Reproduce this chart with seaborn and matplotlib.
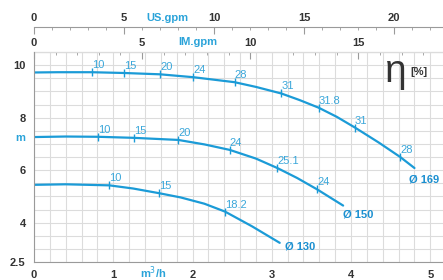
import numpy as np
import pandas as pd
import matplotlib
matplotlib.use("Agg")
import matplotlib.pyplot as plt
from matplotlib.ticker import MultipleLocator
import seaborn as sns

# ---------- data ----------
# pump curves: flow (m3/h) vs head (m) for three impeller diameters
q_169 = [0, 0.3, 0.73, 1.14, 1.59, 2.01, 2.53, 2.8, 3.12, 3.35, 3.59, 3.82, 4.05, 4.35, 4.62, 4.8]
h_169 = [9.72, 9.73, 9.73, 9.70, 9.65, 9.54, 9.35, 9.17, 8.92, 8.67, 8.38, 8.03, 7.62, 7.05, 6.50, 6.08]

q_150 = [0, 0.4, 0.81, 1.26, 1.82, 2.15, 2.47, 2.8, 3.07, 3.32, 3.57, 3.9]
h_150 = [7.26, 7.28, 7.27, 7.23, 7.15, 6.98, 6.77, 6.44, 6.08, 5.70, 5.27, 4.65]

q_130 = [0, 0.4, 0.95, 1.25, 1.58, 1.85, 2.15, 2.41, 2.75, 3.1]
h_130 = [5.44, 5.46, 5.42, 5.30, 5.12, 4.96, 4.72, 4.42, 3.86, 3.23]

# efficiency marks on each curve
eff_q_169 = [0.73, 1.14, 1.59, 2.01, 2.53, 3.12, 3.59, 4.05, 4.62]
eff_h_169 = [9.73, 9.70, 9.65, 9.54, 9.35, 8.92, 8.38, 7.62, 6.50]
eff_lbl_169 = ["10", "15", "20", "24", "28", "31", "31.8", "31", "28"]

eff_q_150 = [0.81, 1.26, 1.82, 2.47, 3.07, 3.57]
eff_h_150 = [7.27, 7.23, 7.15, 6.77, 6.08, 5.27]
eff_lbl_150 = ["10", "15", "20", "24", "25.1", "24"]

eff_q_130 = [0.95, 1.58, 2.41]
eff_h_130 = [5.42, 5.12, 4.42]
eff_lbl_130 = ["10", "15", "18.2"]

curve_names = ["Ø 169", "Ø 150", "Ø 130"]
y_ticks = [2.5, 4, 6, 8, 10]
y_tick_labels = ["2.5", "4", "6", "8", "10"]
x_ticks = [0, 1, 2, 3, 4, 5]
us_ticks = [0, 5, 10, 15, 20]
im_ticks = [0, 5, 10, 15]

M3H_TO_USGPM = 4.403
M3H_TO_IMGPM = 3.666

# ---------- style ----------
sns.set_style("white")
plt.rcParams["font.family"] = ["Liberation Sans", "DejaVu Sans"]

LINE = "#1b9bd7"
LBL = "#3aa7da"
DARK = "#333333"
SPINE = "#9a9a9a"
GRID = "#dcdcdc"

curves = pd.concat([
    pd.DataFrame({"Q": q_169, "H": h_169, "curve": curve_names[0]}),
    pd.DataFrame({"Q": q_150, "H": h_150, "curve": curve_names[1]}),
    pd.DataFrame({"Q": q_130, "H": h_130, "curve": curve_names[2]}),
])
eff = pd.concat([
    pd.DataFrame({"Q": eff_q_169, "H": eff_h_169, "lbl": eff_lbl_169}),
    pd.DataFrame({"Q": eff_q_150, "H": eff_h_150, "lbl": eff_lbl_150}),
    pd.DataFrame({"Q": eff_q_130, "H": eff_h_130, "lbl": eff_lbl_130}),
])

fig = plt.figure(figsize=(4.43, 2.8), dpi=100)
ax = fig.add_axes([34 / 443, 18 / 280, 409 / 443, 210 / 280])

sns.lineplot(data=curves, x="Q", y="H", hue="curve", units="curve", estimator=None,
             palette=[LINE] * 3, sort=False, legend=False, linewidth=1.6, ax=ax)
sns.scatterplot(data=eff, x="Q", y="H", marker="|", s=30, linewidth=1.0,
                color=LINE, legend=False, ax=ax, zorder=3)

for _, r in eff.iterrows():
    ax.annotate(r["lbl"], (r["Q"], r["H"]), xytext=(0, 2), textcoords="offset pixels",
                ha="left", va="bottom", fontsize=8, color=LBL)

# diameter labels at the end of each curve
ends = [(q_169[-1], h_169[-1], (-5, -11)), (q_150[-1], h_150[-1], (0, -9)),
        (q_130[-1], h_130[-1], (5, -4))]
for name, (qe, he, off) in zip(curve_names, ends):
    ax.annotate(name, (qe, he), xytext=off, textcoords="offset pixels",
                ha="left", va="center", fontsize=8, fontweight="bold", color="#1a8fd0")

# ---------- axes ----------
ax.set_xlim(0, 5.16)
ax.set_ylim(2.5, 10.5)
ax.set_xticks(x_ticks)
ax.xaxis.set_minor_locator(MultipleLocator(0.2))
ax.set_yticks(y_ticks)
ax.set_yticklabels(y_tick_labels)
ax.yaxis.set_minor_locator(MultipleLocator(0.5))
ax.grid(which="both", color=GRID, linewidth=0.8)
ax.set_axisbelow(True)
ax.set_xlabel("")
ax.set_ylabel("")
for s in ["top", "right"]:
    ax.spines[s].set_visible(False)
for s in ["left", "bottom"]:
    ax.spines[s].set_color(SPINE)
ax.tick_params(axis="both", which="major", labelsize=8, labelcolor=DARK,
               color=SPINE, length=4, width=0.8, direction="out", pad=2)
ax.tick_params(axis="x", which="minor", color=SPINE, length=2.5, width=0.6, direction="out")
ax.tick_params(axis="y", which="minor", length=0)
for t in ax.get_xticklabels() + ax.get_yticklabels():
    t.set_fontweight("bold")

# secondary flow scales on top
sec_im = ax.secondary_xaxis("top", functions=(lambda q: q * M3H_TO_IMGPM,
                                               lambda g: g / M3H_TO_IMGPM))
sec_us = ax.secondary_xaxis(1.119, functions=(lambda q: q * M3H_TO_USGPM,
                                              lambda g: g / M3H_TO_USGPM))
for sec, ticks in [(sec_im, im_ticks), (sec_us, us_ticks)]:
    sec.set_alignment("top")
    sec.set_xticks(ticks)
    sec.xaxis.set_minor_locator(MultipleLocator(1))
    sec.spines["top"].set_color(SPINE)
    sec.tick_params(which="major", direction="in", length=5, width=0.8, color=SPINE,
                    labelsize=8, labelcolor=DARK, pad=3)
    sec.tick_params(which="minor", direction="in", length=2.5, width=0.6, color=SPINE)
    for t in sec.get_xticklabels():
        t.set_fontweight("bold")

# unit labels
ax.text(1.68, 1.162, "US.gpm", transform=ax.get_xaxis_transform(), ha="center",
        va="center", fontsize=8, fontweight="bold", color="#2aa3d9")
ax.text(2.07, 1.048, "IM.gpm", transform=ax.get_xaxis_transform(), ha="center",
        va="center", fontsize=8, fontweight="bold", color="#2aa3d9")
ax.text(1.5, -0.05, "m$^3$/h", transform=ax.get_xaxis_transform(), ha="center",
        va="center", fontsize=8, fontweight="bold", color="#2aa3d9")
ax.text(-0.034, 7.23, "m", transform=ax.get_yaxis_transform(), ha="center",
        va="center", fontsize=8, fontweight="bold", color="#2aa3d9")

# efficiency symbol
fig.text(385 / 443, 1 - 82 / 280, "η", fontsize=28, color=DARK, ha="left", va="baseline")
fig.text(410 / 443, 1 - 72 / 280, "[%]", fontsize=8, fontweight="bold", color=DARK,
         ha="left", va="center")

fig.savefig("out.png", dpi=100)
